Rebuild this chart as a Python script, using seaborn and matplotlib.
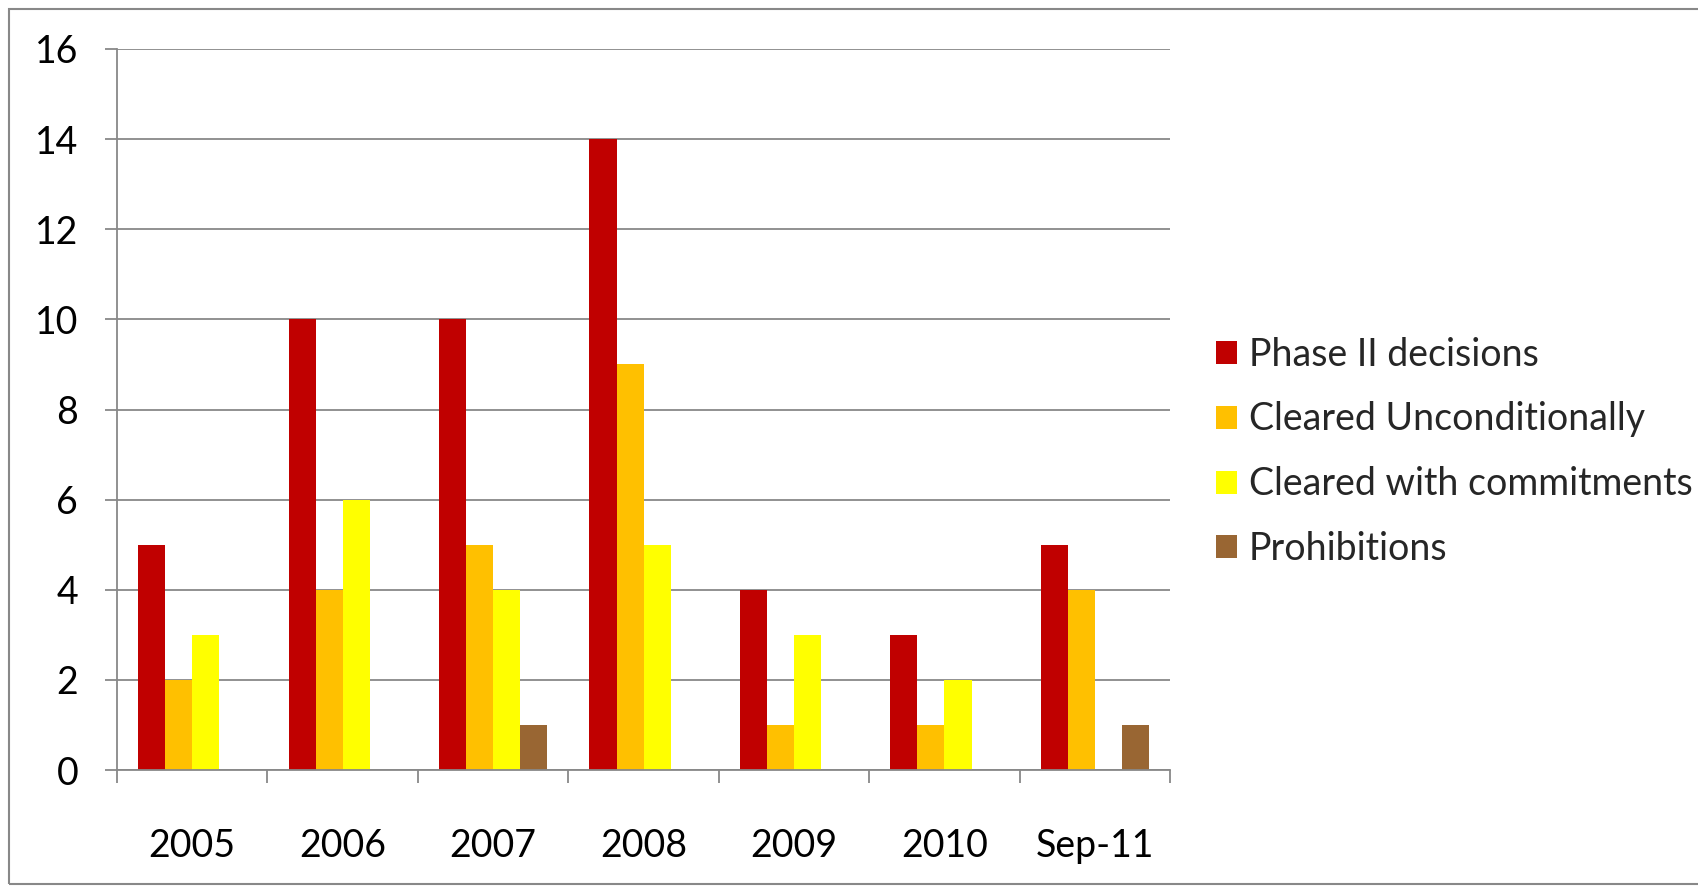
import pandas as pd
import matplotlib.pyplot as plt
import matplotlib.patches as mpatches
from matplotlib.ticker import FixedLocator, MultipleLocator
import seaborn as sns

# data
years = ["2005", "2006", "2007", "2008", "2009", "2010", "Sep-11"]
phase2 = [5, 10, 10, 14, 4, 3, 5]
cleared_uncond = [2, 4, 5, 9, 1, 1, 4]
cleared_commit = [3, 6, 4, 5, 3, 2, 0]
prohibitions = [0, 0, 1, 0, 0, 0, 1]

series_names = ["Phase II decisions", "Cleared Unconditionally",
                "Cleared with commitments", "Prohibitions"]
colors = ["#C00000", "#FFC000", "#FFFF00", "#996633"]

df = pd.DataFrame({"year": years,
                   series_names[0]: phase2,
                   series_names[1]: cleared_uncond,
                   series_names[2]: cleared_commit,
                   series_names[3]: prohibitions})
long_df = df.melt(id_vars="year", var_name="series", value_name="count")

sns.set_style("white")
plt.rcParams['font.family'] = ['Lato', 'DejaVu Sans']

grid_col = '#888888'

fig = plt.figure(figsize=(16.99, 8.86), dpi=100)
ax = fig.add_axes([0.0689, 0.1309, 0.6198, 0.8138])

sns.barplot(data=long_df, x="year", y="count", hue="series",
            hue_order=series_names, palette=colors, order=years,
            width=0.72, linewidth=0, saturation=1, ax=ax, legend=True)

ax.set_ylim(0, 16)
ax.set_xlim(-0.5, len(years) - 0.5)
ax.yaxis.set_major_locator(MultipleLocator(2))
ax.grid(axis='y', color=grid_col, linewidth=1.3)
ax.set_axisbelow(True)
ax.set_xlabel("")
ax.set_ylabel("")

for side in ['top', 'right']:
    ax.spines[side].set_visible(False)
for side in ['left', 'bottom']:
    ax.spines[side].set_color(grid_col)
    ax.spines[side].set_linewidth(1.3)

ax.tick_params(axis='y', which='major', length=9, width=1.3, color=grid_col,
               pad=19, labelsize=27, labelcolor='black', left=True)
ax.tick_params(axis='x', which='major', length=0, pad=42, labelsize=27,
               labelcolor='black')
ax.xaxis.set_minor_locator(FixedLocator([i - 0.5 for i in range(len(years) + 1)]))
ax.tick_params(axis='x', which='minor', length=9, width=1.3, color=grid_col,
               bottom=True)

handles, labels = ax.get_legend_handles_labels()
ax.legend(handles, labels, loc='center left', bbox_to_anchor=(0.7155, 0.49),
          bbox_transform=fig.transFigure, frameon=False, fontsize=27,
          handlelength=0.57, handleheight=0.57, handletextpad=0.31,
          labelspacing=0.77, borderpad=0, borderaxespad=0)

# outer chart border
fig.patches.append(mpatches.Rectangle((9 / 1699, 2 / 886), 1.0, 875 / 886,
                                      transform=fig.transFigure, fill=False,
                                      edgecolor=grid_col, linewidth=1.5))

fig.savefig("out.png", dpi=100)
